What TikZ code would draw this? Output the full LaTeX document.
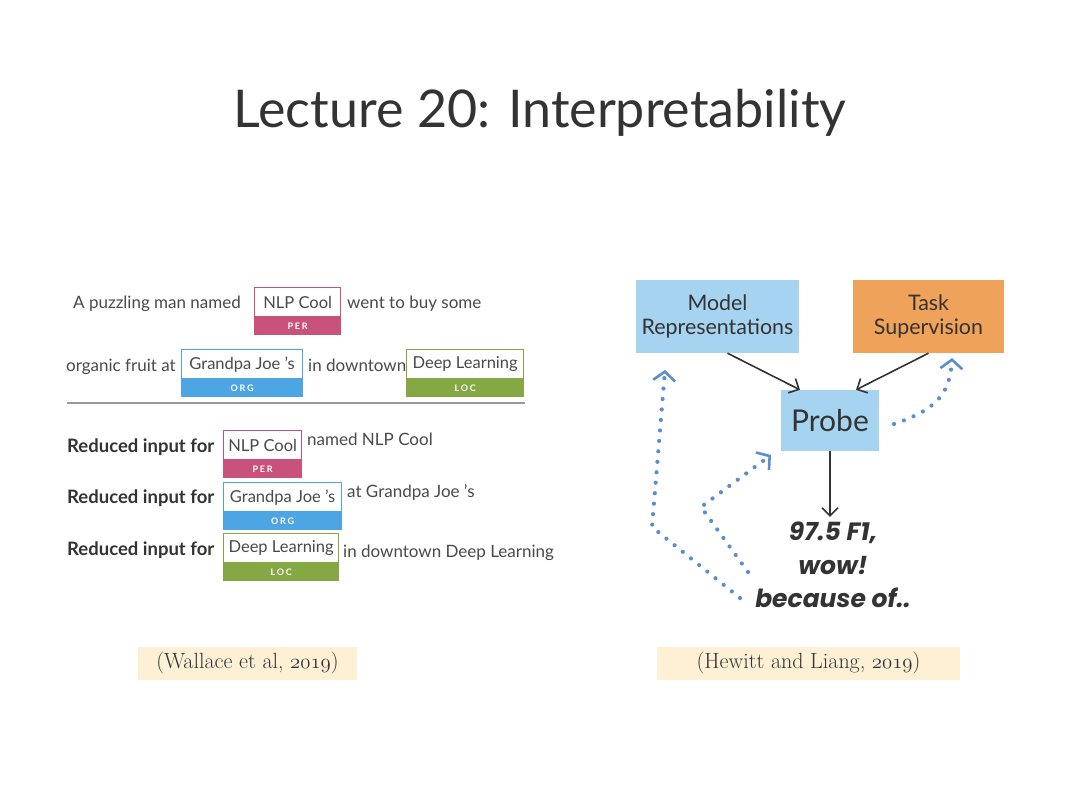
\documentclass[tikz,border=0pt]{standalone}
\usepackage{fontspec}
\setmainfont{Lato}
\newfontfamily\resfont{Poppins}
\newfontfamily\citefont{Latin Modern Roman}
\usetikzlibrary{arrows.meta,positioning}

\definecolor{txtgray}{HTML}{4A4A4A}
\definecolor{txtdark}{HTML}{333333}
\definecolor{percol}{HTML}{C8527C}
\definecolor{orgcol}{HTML}{4DA6E3}
\definecolor{loccol}{HTML}{84A844}
\definecolor{boxblue}{HTML}{A6D3EF}
\definecolor{boxorange}{HTML}{EFA25A}
\definecolor{citefill}{HTML}{FDF0D5}
\definecolor{dotblue}{HTML}{5A8ED0}

\newcommand{\yr}[1]{$\mathnormal{#1}$}

\begin{document}
\begin{tikzpicture}[x=1pt,y=-1pt,
  lbl/.style={inner sep=0pt, anchor=base west, text=txtgray, font=\fontsize{17}{20}\selectfont},
  redlbl/.style={lbl, text=txtdark, font=\fontsize{18.5}{20}\selectfont\bfseries},
  entbox/.style={draw=#1, line width=1.3pt, fill=white, inner sep=0pt, minimum height=29,
    anchor=north west, text=txtgray, font=\fontsize{16.5}{18}\selectfont},
  enttag/.style={fill=#1, draw=#1, line width=1.3pt, inner sep=0pt, minimum height=16,
    text=white, font=\fontsize{9}{10}\selectfont\bfseries\addfontfeature{LetterSpace=20}},
  citebox/.style={fill=citefill, inner sep=0pt, minimum height=33, font=\citefont\fontsize{22}{24}\selectfont, text=txtdark},
  diabox/.style={fill=#1, inner sep=0pt, align=center, text=txtdark, font=\fontsize{21.4}{24}\selectfont},
  blk/.style={draw=txtdark, line width=1.6pt, -{Straight Barb[length=8pt,width=16pt,line width=1.6pt]}},
  dotarrow/.style={draw=dotblue, line width=4.2pt, line cap=round, dash pattern=on 0pt off 10.5pt,
    -{Straight Barb[length=9pt,width=22pt,line width=2.6pt]}}]

\useasboundingbox (0,0) rectangle (1080,809);
\fill[white] (0,0) rectangle (1080,809);

% title
\node[inner sep=0pt, text=txtdark, font=\fontsize{52}{56}\selectfont] (title) at (540,113) {Lecture 20: Interpretability};

% left panel: original sentence
\node[lbl] (s1a) at (73,308) {A puzzling man named};
\node[entbox=percol, minimum width=86] (s1e) at (254,287) {NLP Cool};
\node[enttag=percol, below=0pt of s1e, minimum width=86] (s1t) {PER};
\node[lbl] (s1b) at (347,308) {went to buy some};

\node[lbl] (s2a) at (66,371) {organic fruit at};
\node[entbox=orgcol, minimum width=121] (s2e) at (181,349) {Grandpa Joe 's};
\node[enttag=orgcol, below=0pt of s2e, minimum width=121] (s2t) {ORG};
\node[lbl] (s2b) at (308,371) {in downtown};
\node[entbox=loccol, minimum width=117] (s2f) at (406,349) {Deep Learning};
\node[enttag=loccol, below=0pt of s2f, minimum width=117] (s2u) {LOC};

\draw[draw=gray!80, line width=1.8pt] (67,403) -- (525,403);

% left panel: reduced inputs
\node[redlbl] (r1a) at (67,452) {Reduced input for};
\node[entbox=percol, minimum width=78] (r1e) at (223,430) {NLP Cool};
\node[enttag=percol, below=0pt of r1e, minimum width=78] (r1t) {PER};
\node[lbl] (r1b) at (307,445) {named NLP Cool};

\node[redlbl] (r2a) at (67,503) {Reduced input for};
\node[entbox=orgcol, minimum width=118] (r2e) at (223,482) {Grandpa Joe 's};
\node[enttag=orgcol, below=0pt of r2e, minimum width=118] (r2t) {ORG};
\node[lbl] (r2b) at (347,497) {at Grandpa Joe 's};

\node[redlbl] (r3a) at (67,555) {Reduced input for};
\node[entbox=loccol, minimum width=115] (r3e) at (223,533) {Deep Learning};
\node[enttag=loccol, below=0pt of r3e, minimum width=115] (r3t) {LOC};
\node[lbl] (r3b) at (343,557) {in downtown Deep Learning};

% right panel: probe
\node[diabox=boxblue, minimum width=163, minimum height=73] (model) at (717.5,316.5) {Model\\Representations};
\node[diabox=boxorange, minimum width=151, minimum height=73] (task) at (928.5,316.5) {Task\\Supervision};
\node[diabox=boxblue, minimum width=98, minimum height=61, font=\fontsize{30}{32}\selectfont] (probe) at (830,420.5) {Probe};
\node[align=center, inner sep=0pt, text=txtdark, font=\resfont\bfseries\itshape\fontsize{25}{33.5}\selectfont] (res) at (833,565) {97.5 F1,\\wow!\\because of..};

\draw[blk] ([xshift=10pt]model.south) -- ([xshift=-30pt]probe.north);
\draw[blk] (task.south) -- ([xshift=26pt]probe.north);
\draw[blk] (probe.south) -- ([yshift=5pt]probe.south |- res.north);

\coordinate (d1s) at (740,598);
\coordinate (d1m) at (652,527);
\coordinate (d1e) at (665,370);
\draw[dotarrow] (d1s) -- (d1m) -- (d1e);
\coordinate (d2s) at (748,572);
\coordinate (d2m) at (701,507);
\coordinate (d2e) at (771,455);
\draw[dotarrow] (d2s) -- (d2m) -- (d2e);
\coordinate (d3s) at (894,424);
\coordinate (d3e) at (952,358);
\draw[dotarrow] (d3s) .. controls (935,410) and (950,395) .. (d3e);

% citations
\node[citebox, minimum width=219] (cite1) at (247.5,663.5) {(Wallace et al, \yr{2019})};
\node[citebox, minimum width=303] (cite2) at (808.5,663.5) {(Hewitt and Liang, \yr{2019})};
\end{tikzpicture}
\end{document}
